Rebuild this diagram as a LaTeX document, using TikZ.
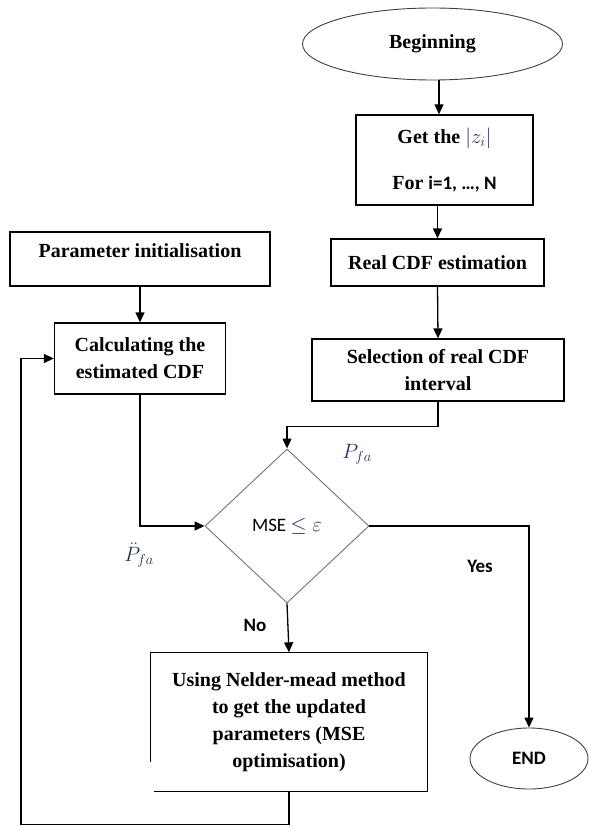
\documentclass[tikz,border=0pt]{standalone}
\usepackage{fontspec}
\setmainfont{Liberation Serif}
\newfontfamily\calibfont{Carlito}
\usetikzlibrary{arrows.meta, shapes.geometric}
\definecolor{mathnavy}{RGB}{36,48,98}

\begin{document}
\begin{tikzpicture}[x=1pt,y=-1pt,>={Triangle[length=10pt,width=9pt]},line width=1.3pt,
  box node/.style={rectangle,draw,inner sep=0pt,align=center,font=\bfseries\fontsize{20}{27}\selectfont},
  term node/.style={ellipse,draw=black!75,line width=0.9pt,inner sep=0pt},
  cond node/.style={diamond,draw=black!55,line width=0.9pt,inner sep=0pt},
  lbl node/.style={font=\calibfont\bfseries\fontsize{19}{22}\selectfont},
  math node/.style={text=mathnavy,font=\fontsize{22}{24}\selectfont}]
  \useasboundingbox (0,0) rectangle (590,826);
  % right column
  \node[term node, minimum width=260pt, minimum height=72pt, font=\bfseries\fontsize{20}{24}\selectfont] (begin) at (432.5,44) {Beginning};
  \node[box node, minimum width=177pt, minimum height=90pt] (get) at (444.5,160)
    {Get the {\color{mathnavy}\fontsize{22}{27}\selectfont$|z_i|$}\\[19pt]For {\calibfont\fontsize{19}{27}\selectfont i=1, …, N}};
  \node[box node, minimum width=213pt, minimum height=47pt] (real) at (437.5,262.5) {Real CDF estimation};
  \node[box node, minimum width=252pt, minimum height=62pt] (sel) at (438,370) {Selection of real CDF\\interval};
  % left column
  \node[box node, align=left, minimum width=260pt, text height=25pt, text depth=29pt] (param) at (140,259) {Parameter initialisation};
  \node[box node, minimum width=171pt, minimum height=71pt] (calc) at (140,358.5) {Calculating the\\estimated CDF};
  % test and update
  \node[cond node, minimum width=164pt, minimum height=154pt] (dia) at (287,526)
    {\calibfont\fontsize{19}{22}\selectfont MSE {\color{mathnavy}\fontsize{21}{22}\selectfont$\leq\varepsilon$}};
  \node[box node, draw=none, minimum width=276pt, minimum height=138pt] (nelder) at (289,722)
    {Using Nelder-mead method\\to get the updated\\parameters (MSE\\optimisation)};
  \draw ([xshift=4pt]nelder.south west) -- (nelder.south east) -- (nelder.north east)
    -- (nelder.north west) -- ([yshift=30pt]nelder.south west);
  \node[term node, minimum width=118pt, minimum height=61pt, font=\calibfont\bfseries\fontsize{19}{22}\selectfont] (finish) at (529,758.5) {END};
  % labels
  \node[math node] (pfa) at (357,454) {$P_{fa}$};
  \node[math node] (pfadd) at (139,555) {$\ddot{P}_{fa}$};
  \node[lbl node] (no) at (255,625) {No};
  \node[lbl node] (yes) at (480,566) {Yes};
  % connectors
  \draw[->] ([xshift=6.5pt]begin.south) -- ([xshift=-5.5pt]get.north);
  \draw[->] (get.south -| real.north) -- (real.north);
  \draw[->] (real.south) -- (sel.north);
  \draw[->] (sel.south) -- ++(0,25) -| (dia.north);
  \draw[->] (param.south) -- (calc.north);
  \draw[->] (calc.south) |- (dia.west);
  \draw[->] (dia.south) -- (nelder.north);
  \draw[->] (dia.east) -| (finish.north);
  \draw[->] (nelder.south) -- ++(0,33) -| ([xshift=-33pt]calc.west) -- (calc.west);
\end{tikzpicture}
\end{document}
